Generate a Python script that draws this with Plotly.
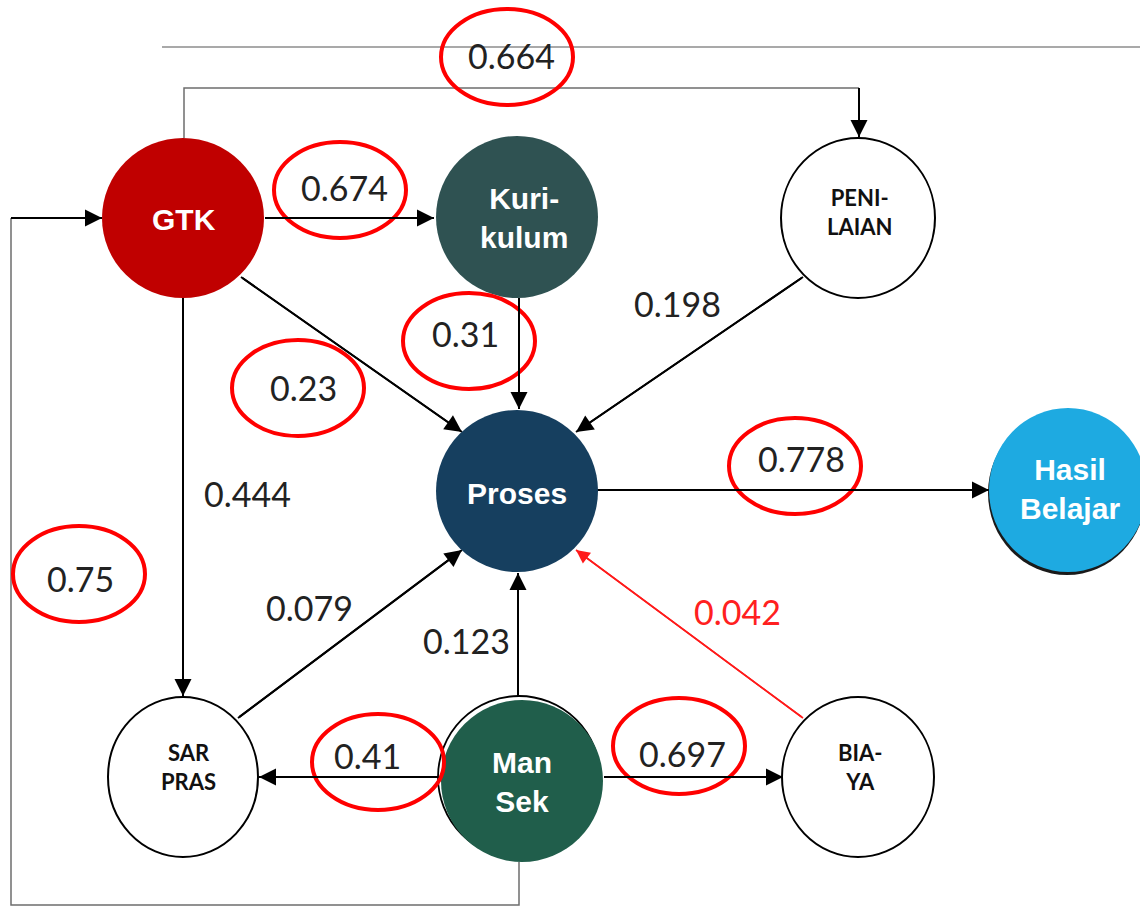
import plotly.graph_objects as go

# ---------------- data ----------------
node_ids = ["GTK", "KUR", "PEN", "PROS", "HASIL", "SAR", "MAN", "BIAYA"]
node_labels = ["GTK", "Kuri-<br>kulum", "PENI-<br>LAIAN", "Proses", "Hasil<br>Belajar",
               "SAR<br>PRAS", "Man<br>Sek", "BIA-<br>YA"]

edge_from = ["GTK", "GTK", "GTK", "KUR", "PEN", "GTK", "SAR", "MAN", "BIAYA", "MAN", "MAN", "PROS", "MAN"]
edge_to   = ["PEN", "KUR", "PROS", "PROS", "PROS", "SAR", "PROS", "PROS", "PROS", "SAR", "BIAYA", "HASIL", "GTK"]
edge_coef = [0.664, 0.674, 0.23, 0.31, 0.198, 0.444, 0.079, 0.123, 0.042, 0.41, 0.697, 0.778, 0.75]
edge_circled = [True, True, True, True, False, False, False, False, False, True, True, True, True]
edge_red = [False, False, False, False, False, False, False, False, True, False, False, False, False]

# ---------------- layout / style (positions in pixel-like units) ----------------
node_geom = {  # cx, cy, rx, ry
    "GTK": (183, 218, 81, 80), "KUR": (517, 217, 81, 81), "PEN": (858, 218, 77, 80),
    "PROS": (517, 491, 81, 81), "HASIL": (1068, 490, 79, 82), "SAR": (183, 777, 75, 80),
    "MAN": (522, 781, 81, 81), "BIAYA": (858, 777, 76, 80),
}
node_fill = {"GTK": "#c00000", "KUR": "#2f5252", "PEN": "white", "PROS": "#163f5f",
             "HASIL": "#1eaae1", "SAR": "white", "MAN": "#205e4b", "BIAYA": "white"}
node_text_pos = {"GTK": (184, 219), "KUR": (524, 218), "PEN": (859, 212), "PROS": (517, 493),
                 "HASIL": (1070, 489), "SAR": (188, 767), "MAN": (522, 782), "BIAYA": (860, 767)}

edge_paths = [
    [(184, 138), (184, 88), (859, 88), (859, 137)],
    [(265, 218), (434, 218)],
    [(241, 277), (462, 432)],
    [(519, 298), (519, 409)],
    [(803, 277), (576, 432)],
    [(183, 298), (183, 696)],
    [(238, 718), (462, 550)],
    [(518, 697), (518, 573)],
    [(803, 718), (576, 550)],
    [(440, 777), (259, 777)],
    [(604, 777), (783, 777)],
    [(597, 490), (989, 490)],
    [(519, 862), (519, 905), (11, 905), (11, 218), (102, 218)],
]
label_pos = [(511, 55), (344, 187), (303, 387), (465, 333), (677, 303), (247, 493), (309, 607),
             (466, 640), (737, 611), (367, 755), (682, 753), (801, 458), (80, 578)]
circle_pos = [(507, 57), (340, 190), (298, 388), (469, 341), None, None, None,
              None, None, (378, 762), (679, 746), (795, 466), (79, 574)]

fig = go.Figure()
fig.add_trace(go.Scatter(x=[0, 1140], y=[0, 907], mode="markers",
                         marker=dict(opacity=0), hoverinfo="skip", showlegend=False))

shapes = []
annotations = []

# decorative top rule
shapes.append(dict(type="line", x0=162, y0=47, x1=1140, y1=47, line=dict(color="#8c8c8c", width=1.5)))

# edge bodies
for i, pts in enumerate(edge_paths):
    color = "#ff1a1a" if edge_red[i] else "black"
    if len(pts) > 2:
        d = "M " + " L ".join(f"{x},{y}" for x, y in pts[:-1])
        shapes.append(dict(type="path", path=d, line=dict(color="#6e6e6e", width=1.5)))
        (x0, y0), (x1, y1) = pts[-2], pts[-1]
    else:
        (x0, y0), (x1, y1) = pts
    shapes.append(dict(type="line", x0=x0, y0=y0, x1=x1, y1=y1,
                       line=dict(color=color, width=1.6 if edge_red[i] else 2)))
    annotations.append(dict(x=x1, y=y1, ax=x0, ay=y0, xref="x", yref="y", axref="x", ayref="y",
                            text="", showarrow=True, arrowhead=2, arrowsize=1.7,
                            arrowwidth=1.6 if edge_red[i] else 2, arrowcolor=color, standoff=0))

# shadows / outlines behind some nodes
cx, cy, rx, ry = node_geom["HASIL"]
shapes.append(dict(type="circle", x0=cx - rx - 1, x1=cx + rx - 1, y0=cy - ry + 3, y1=cy + ry + 3,
                   fillcolor="#1a1a1a", line=dict(width=0)))
cx, cy, rx, ry = node_geom["MAN"]
shapes.append(dict(type="circle", x0=cx - rx - 3, x1=cx + rx - 3, y0=cy - ry - 4, y1=cy + ry - 4,
                   fillcolor="white", line=dict(color="black", width=1.8)))

# nodes
for nid in node_ids:
    cx, cy, rx, ry = node_geom[nid]
    fill = node_fill[nid]
    outline = dict(color="black", width=2) if fill == "white" else dict(width=0)
    shapes.append(dict(type="circle", x0=cx - rx, x1=cx + rx, y0=cy - ry, y1=cy + ry,
                       fillcolor=fill, line=outline))

# node labels
for nid, lab in zip(node_ids, node_labels):
    tx, ty = node_text_pos[nid]
    if node_fill[nid] == "white":
        font = dict(family="Lato", size=22, color="#111111", weight="bold")
    else:
        font = dict(family="Liberation Sans", size=30, color="white", weight="bold")
    annotations.append(dict(x=tx, y=ty, xref="x", yref="y", text=f"<b>{lab}</b>", showarrow=False,
                            font=font, align="center"))

# coefficient labels
for i, v in enumerate(edge_coef):
    lx, ly = label_pos[i]
    annotations.append(dict(x=lx, y=ly, xref="x", yref="y", text=f"{v:g}", showarrow=False,
                            font=dict(family="Lato", size=34,
                                      color="#ff2020" if edge_red[i] else "#222222")))

# red highlight rings
for i, c in enumerate(circle_pos):
    if c is None or not edge_circled[i]:
        continue
    cx, cy = c
    shapes.append(dict(type="circle", x0=cx - 66, x1=cx + 66, y0=cy - 48, y1=cy + 48,
                       line=dict(color="#ff0000", width=4)))

fig.update_layout(
    width=1140, height=907, margin=dict(l=0, r=0, t=0, b=0),
    paper_bgcolor="white", plot_bgcolor="white", showlegend=False,
    xaxis=dict(range=[0, 1140], visible=False, fixedrange=True),
    yaxis=dict(range=[907, 0], visible=False, fixedrange=True),
    shapes=shapes, annotations=annotations,
)
fig.write_html("out.html", config={"displayModeBar": False},
               post_script="document.body.style.margin='0';document.body.style.overflow='hidden';")
